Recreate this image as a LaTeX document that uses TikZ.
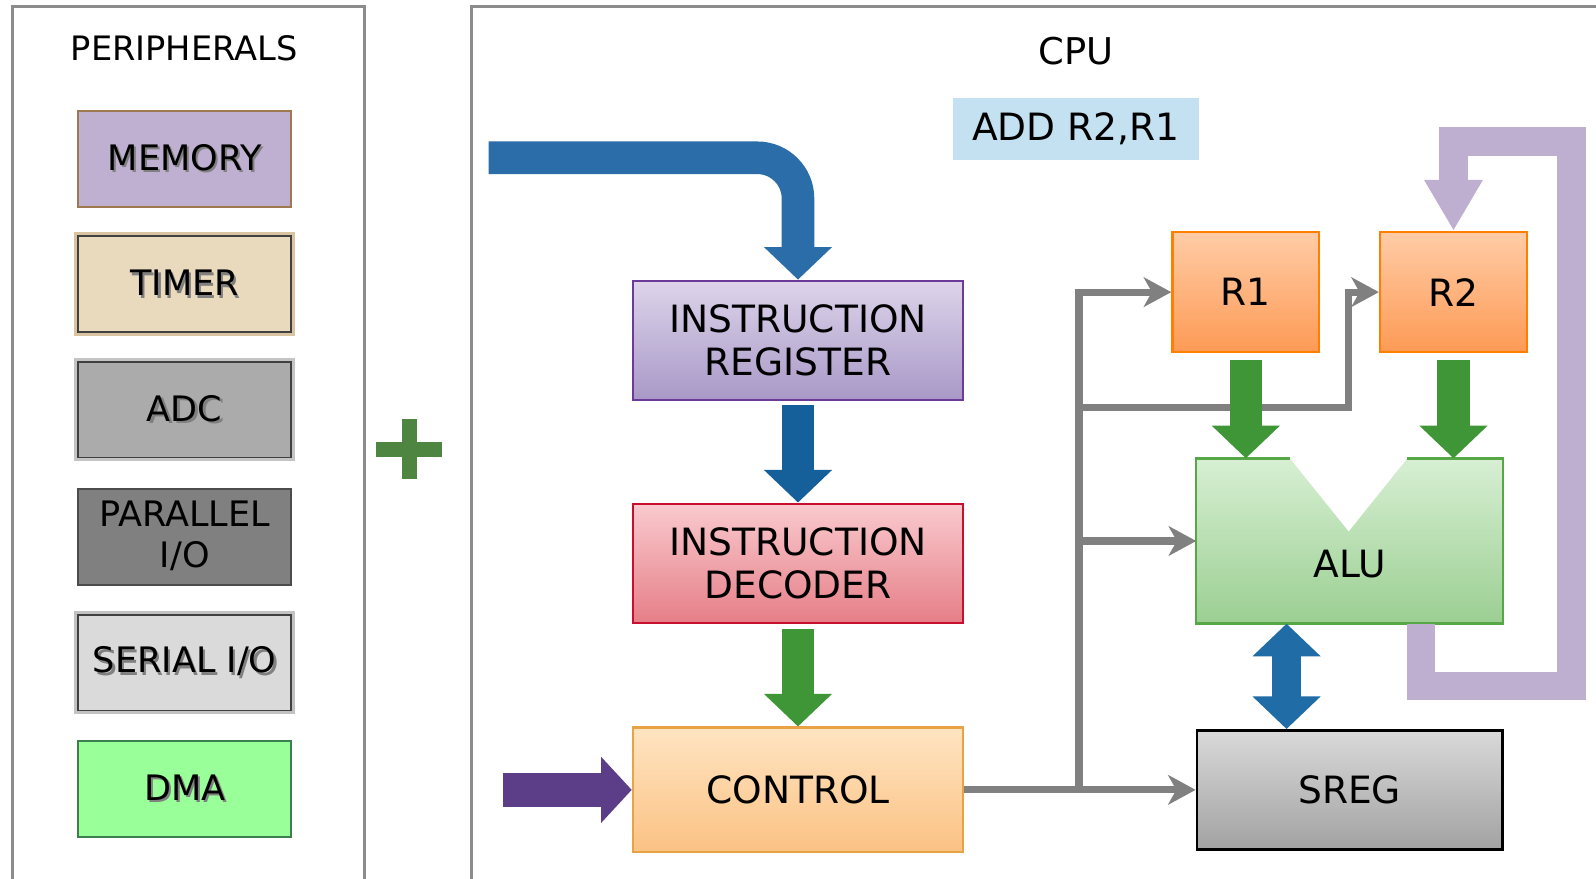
\documentclass[tikz,border=0pt]{standalone}
\usepackage{fontspec}
\setmainfont{DejaVu Sans}
\usetikzlibrary{arrows.meta,calc,positioning}

\definecolor{framegray}{HTML}{8C8C8C}
\definecolor{memfill}{HTML}{BFB0D2}
\definecolor{memline}{HTML}{A07850}
\definecolor{timfill}{HTML}{E9D9BD}
\definecolor{timglow}{HTML}{D9C3A3}
\definecolor{adcfill}{HTML}{ABABAB}
\definecolor{adcglow}{HTML}{C4C4C4}
\definecolor{parfill}{HTML}{808080}
\definecolor{serfill}{HTML}{DADADA}
\definecolor{serglow}{HTML}{C2C2C2}
\definecolor{dmafill}{HTML}{99FF99}
\definecolor{dmaline}{HTML}{3C8050}
\definecolor{plusgreen}{HTML}{4E8540}
\definecolor{opblue}{HTML}{C4E1F2}
\definecolor{irtop}{HTML}{DDD4EA}
\definecolor{irbot}{HTML}{A898C7}
\definecolor{irline}{HTML}{6E3A9A}
\definecolor{dectop}{HTML}{F9CACE}
\definecolor{decbot}{HTML}{E67E87}
\definecolor{decline}{HTML}{C8102E}
\definecolor{ctrltop}{HTML}{FFE4C2}
\definecolor{ctrlbot}{HTML}{FBC283}
\definecolor{ctrlline}{HTML}{E8A444}
\definecolor{regtop}{HTML}{FFCCA6}
\definecolor{regbot}{HTML}{FD9A55}
\definecolor{regline}{HTML}{FF8000}
\definecolor{alutop}{HTML}{D7EFD3}
\definecolor{alubot}{HTML}{9BCF92}
\definecolor{aluline}{HTML}{55A845}
\definecolor{sregtop}{HTML}{D9D9D9}
\definecolor{sregbot}{HTML}{A2A2A2}
\definecolor{busgray}{HTML}{808080}
\definecolor{fbpurple}{HTML}{BEAED0}
\definecolor{fetchblue}{HTML}{2A6DA8}
\definecolor{irblue}{HTML}{15609A}
\definecolor{greenarrow}{HTML}{3F9637}
\definecolor{ctrlpurple}{HTML}{5C3D87}
\definecolor{flagblue}{HTML}{1F6CA6}

\newcommand{\shd}[1]{\leavevmode\rlap{\kern0.6pt\raisebox{-0.7pt}{\textcolor{black!50}{#1}}}#1}

\tikzset{
  periph/.style={minimum width=2.09cm, minimum height=0.94cm, inner sep=0pt, align=center,
    font=\fontsize{9.8}{11.5}\selectfont, line width=0.5pt},
  glow/.style={preaction={draw=#1, line width=2.2pt}},
  cpufont/.style={font=\fontsize{10.5}{12.2}\selectfont},
  cpubox/.style={cpufont, minimum width=3.24cm, minimum height=1.17cm, inner sep=0pt,
    align=center, line width=0.7pt},
  regbox/.style={cpubox, minimum width=1.44cm, minimum height=1.18cm,
    top color=regtop, bottom color=regbot, draw=regline},
  busline/.style={draw=busgray, line width=2pt, -{Stealth[length=0.27cm,width=0.29cm,inset=0.08cm]}},
  fatarrow/.style={line width=0.32cm, -{Triangle[width=0.65cm,length=0.32cm]}},
  feedback/.style={draw=fbpurple, line width=0.28cm, -{Triangle[width=0.54cm,length=0.5cm]}},
}

\begin{document}
\begin{tikzpicture}[x=0.01cm, y=-0.01cm]
\useasboundingbox (0,0) rectangle (1568,863);
\clip (0,0) rectangle (1568,863);

% frames
\draw[framegray, line width=0.9pt] (12,6) rectangle (358,900);
\draw[framegray, line width=0.9pt] (463,6) rectangle (1620,900);
\node[font=\fontsize{9.4}{11}\selectfont] (pertitle) at (181,47) {PERIPHERALS};
\node[font=\fontsize{10.3}{12}\selectfont] (cputitle) at (1057,50) {CPU};

% peripherals
\node[periph, fill=memfill, draw=memline] (mem) at (181.5,156) {\shd{MEMORY}};
\node[periph, fill=timfill, draw=black!75, glow=timglow] (tim) at (181.5,279) {\shd{TIMER}};
\node[periph, fill=adcfill, draw=black!75, glow=adcglow] (adc) at (181.5,402.5) {\shd{ADC}};
\node[periph, fill=parfill, draw=black!70] (par) at (181.5,527.5) {\shd{PARALLEL}\\\shd{I/O}};
\node[periph, fill=serfill, draw=black!75, glow=serglow] (ser) at (181.5,651) {\shd{SERIAL I/O}};
\node[periph, fill=dmafill, draw=dmaline] (dma) at (181.5,775) {\shd{DMA}};

% plus
\fill[plusgreen] (369,434) rectangle (434,449);
\fill[plusgreen] (395,412) rectangle (410,471);

% cpu blocks
\node[cpufont, fill=opblue, minimum width=2.42cm, minimum height=0.61cm, inner sep=0pt] (op) at (1057,126.5) {ADD R2,R1};
\node[cpubox, top color=irtop, bottom color=irbot, draw=irline] (ir) at (784,334.5) {INSTRUCTION\\REGISTER};
\node[cpubox, top color=dectop, bottom color=decbot, draw=decline] (dec) at (784,553.5) {INSTRUCTION\\DECODER};
\node[cpubox, minimum height=1.22cm, top color=ctrltop, bottom color=ctrlbot, draw=ctrlline] (ctrl) at (784,776) {CONTROL};
\node[regbox] (r1) at (1224,287) {R1};
\node[regbox] (r2) at (1428,287) {R2};
\node[inner sep=0pt, minimum width=3cm, minimum height=1.61cm] (alu) at (1326,531.5) {};
\shade[top color=alutop, bottom color=alubot] (alu.north west) -- ($(alu.north west)+(92,0)$)
  -- ($(alu.north)+(-1,72)$) -- ($(alu.north east)+(-94,0)$) -- (alu.north east)
  -- (alu.south east) -- (alu.south west) -- cycle;
\draw[aluline, line width=0.7pt] ($(alu.north west)+(92,0)$) -- (alu.north west) -- (alu.south west)
  -- (alu.south east) -- (alu.north east) -- ($(alu.north east)+(-94,0)$);
\node[cpufont] (alulbl) at ($(alu.center)+(0,23)$) {ALU};
\node[cpubox, minimum width=3cm, top color=sregtop, bottom color=sregbot, draw=black] (sreg) at (1326,776) {SREG};

% gray bus
\coordinate (tap) at (1060,776);
\coordinate (tap2) at (1060,400);
\coordinate (bend) at (1325,400);
\draw[busline] (ctrl.east) -- (sreg.west);
\draw[busline] (tap) |- (r1.west);
\draw[busline] (tap |- alu.west) -- (alu.west);
\draw[busline] (tap2) -- (bend) |- (r2.west);

% fat arrows
\coordinate (fetch) at (480,155);
\draw[fatarrow, fetchblue, rounded corners=0.4cm] (fetch) -| (ir.north);
\draw[fatarrow, irblue, shorten <=0.04cm] (ir.south) -- (dec.north);
\draw[fatarrow, greenarrow, shorten <=0.05cm] (dec.south) -- (ctrl.north);
\coordinate (ctrlin) at (494,776);
\draw[ctrlpurple, line width=0.33cm, -{Triangle[width=0.63cm,length=0.30cm]}] (ctrlin) -- (ctrl.west);
\draw[fatarrow, greenarrow, shorten <=0.06cm] (r1.south) -- (r1.south |- alu.north);
\draw[fatarrow, greenarrow, shorten <=0.06cm] (r2.south) -- (r2.south |- alu.north);
\draw[line width=0.28cm, flagblue, {Triangle[width=0.65cm,length=0.32cm]}-{Triangle[width=0.65cm,length=0.32cm]}]
  ($(alu.south)+(-62,0)$) -- ($(sreg.north)+(-62,0)$);

% result back to R2
\draw[feedback] ($(alu.south)+(70,0)$) -- ++(0,61) -| (1544,139) -| (r2.north);
\end{tikzpicture}
\end{document}
